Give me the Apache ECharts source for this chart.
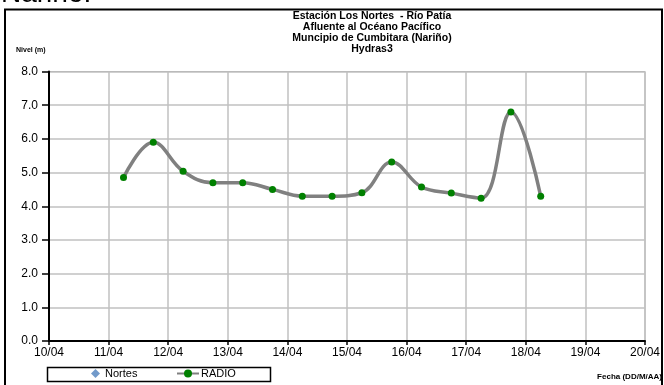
<!DOCTYPE html>
<html>
<head>
<meta charset="utf-8">
<script src="https://cdn.jsdelivr.net/npm/echarts@6/dist/echarts.min.js"></script>
<style>
html,body{margin:0;padding:0;background:#fff;}
#chart{width:664px;height:385px;}
</style>
</head>
<body>
<div id="chart"></div>
<script>
// Data (day of April)
const fechas = [11.25, 11.75, 12.25, 12.75, 13.25, 13.75, 14.25, 14.75, 15.25, 15.75, 16.25, 16.75, 17.25, 17.75, 18.25];
const radio = [4.85, 5.90, 5.04, 4.70, 4.70, 4.50, 4.30, 4.30, 4.40, 5.31, 4.57, 4.39, 4.24, 6.80, 4.30];
const nortes = [];
const titleLines = ['Estación Los Nortes  - Río Patía', 'Afluente al Océano Pacífico', 'Muncipio de Cumbitara (Nariño)', 'Hydras3'];
const seriesNames = ['Nortes', 'RADIO'];

const FONT = 'Arial, "Liberation Sans", sans-serif';
const chart = echarts.init(document.getElementById('chart'), null, {renderer: 'canvas'});

const graphics = [
  {type: 'text', left: 1, top: -20, style: {text: 'Nariño:', font: '28px ' + FONT, fill: '#000'}},
  {type: 'rect', shape: {x: 5, y: 9.5, width: 657, height: 400}, style: {fill: 'none', stroke: '#000', lineWidth: 2}, z: -1},
  {type: 'rect', shape: {x: 47.5, y: 367.5, width: 223, height: 14}, style: {fill: 'none', stroke: '#000', lineWidth: 1.5}},
  {type: 'text', x: 16, y: 47, style: {text: 'Nivel (m)', font: 'bold 7px ' + FONT, fill: '#000'}},
  {type: 'text', x: 662, y: 373, style: {text: 'Fecha (DD/M/AA)', font: 'bold 8px ' + FONT, fill: '#000', textAlign: 'right'}}
];
titleLines.forEach((t, i) => {
  graphics.push({type: 'text', x: 372, y: 11 + i * 11, style: {text: t, font: 'bold 10.5px ' + FONT, fill: '#000', textAlign: 'center'}});
});

const option = {
  animation: false,
  backgroundColor: '#fff',
  textStyle: {fontFamily: FONT},
  grid: {left: 49, right: 19, top: 71.5, bottom: 44, show: true, borderColor: '#a6a6a6', borderWidth: 1},
  legend: [
    {data: [seriesNames[0]], left: 91, top: 368, itemWidth: 9, itemHeight: 9, padding: 0, itemGap: 0,
     textStyle: {fontSize: 11, color: '#000', fontFamily: FONT}},
    {data: [seriesNames[1]], left: 176, top: 368, itemWidth: 22, itemHeight: 10, padding: 0, itemGap: 0,
     textStyle: {fontSize: 11, color: '#000', fontFamily: FONT, padding: [0, 0, 0, -3]}}
  ],
  xAxis: {
    type: 'value', min: 10, max: 20, interval: 1,
    axisLine: {show: true, lineStyle: {color: '#000', width: 2}},
    axisTick: {show: true, length: 4, lineStyle: {color: '#000', width: 1.5}},
    axisLabel: {color: '#000', fontSize: 12, margin: 6, fontFamily: FONT,
      formatter: v => String(Math.round(v)).padStart(2, '0') + '/04'},
    splitLine: {show: true, lineStyle: {color: '#c0c0c0', width: 1.5}}
  },
  yAxis: {
    type: 'value', min: 0, max: 8, interval: 1,
    axisLine: {show: true, lineStyle: {color: '#000', width: 2}},
    axisTick: {show: true, length: 7, lineStyle: {color: '#000', width: 1.5}},
    axisLabel: {color: '#000', fontSize: 12, margin: 11, fontFamily: FONT, formatter: v => v.toFixed(1)},
    splitLine: {show: true, lineStyle: {color: '#c0c0c0', width: 1.5}}
  },
  series: [
    {name: seriesNames[0], type: 'scatter', symbol: 'diamond', symbolSize: 8,
     itemStyle: {color: '#4F81BD'}, data: nortes.map((v, i) => [fechas[i], v])},
    {name: seriesNames[1], type: 'line', smooth: 0.4, symbol: 'circle', symbolSize: 7,
     showAllSymbol: true,
     lineStyle: {color: '#808080', width: 3.5},
     itemStyle: {color: '#008000', borderWidth: 0},
     data: fechas.map((d, i) => [d, radio[i]])}
  ],
  graphic: graphics
};
chart.setOption(option);
</script>
</body>
</html>
